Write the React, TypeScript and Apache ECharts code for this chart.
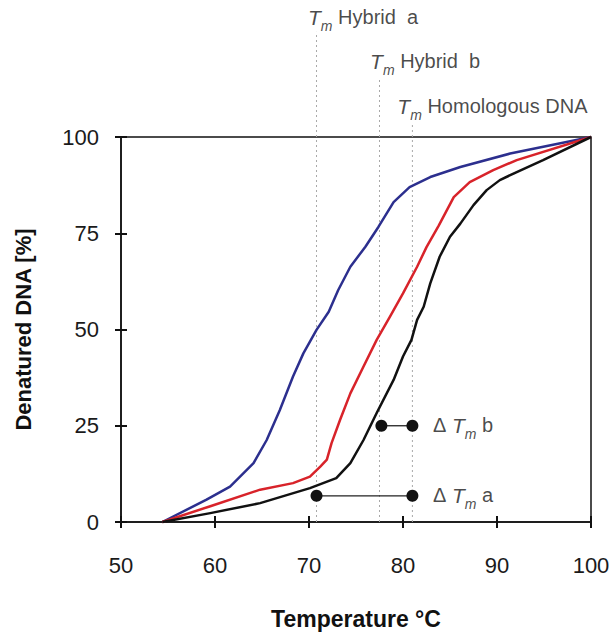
import React, { useEffect, useRef } from "react";
import * as echarts from "echarts";

const FONT = '"Liberation Sans", Arial, Helvetica, sans-serif';
const TEXT = "#1a1a1a";

// Curves (temperature °C, denatured %)
const blueX = [54.4, 59.1, 61.6, 64.1, 65.5, 66.9, 68.3, 69.4, 70.8, 72.1, 73.1, 74.4, 76.0, 77.4, 79.0, 80.7, 82.9, 86.1, 91.4, 100];
const blueY = [0, 5.8, 9.2, 15.3, 21.3, 29.1, 37.8, 43.8, 49.9, 54.6, 60.2, 66.3, 71.5, 76.7, 83.1, 87.0, 89.6, 92.2, 95.7, 100];

const redX = [54.4, 59.5, 64.8, 68.3, 70.1, 71.2, 71.9, 72.4, 73.3, 74.4, 75.8, 77.2, 78.6, 80.0, 81.5, 82.5, 83.8, 85.4, 87.1, 89.6, 92.1, 100];
const redY = [0, 4.1, 8.4, 10.1, 11.8, 14.4, 16.2, 20.5, 26.5, 33.4, 40.4, 47.3, 53.3, 59.4, 66.3, 71.4, 77.0, 84.4, 88.3, 91.4, 94.0, 100];

const blackX = [54.4, 59.5, 64.8, 70.1, 72.9, 74.4, 75.8, 77.2, 79.0, 80.0, 80.9, 81.5, 82.2, 82.9, 83.9, 85.0, 86.1, 87.5, 88.9, 90.3, 92.1, 94.9, 100];
const blackY = [0, 2.3, 4.9, 8.8, 11.4, 15.3, 21.3, 28.3, 36.9, 43.0, 47.3, 52.5, 55.9, 62.0, 68.9, 74.1, 77.5, 82.3, 86.2, 88.8, 90.9, 94.0, 100];

// Tm reference lines
const tmX = [70.8, 77.5, 81.0];
const tmTop = [127.3, 115.3, 103.6];
const tmNames = ["Hybrid\u00a0 a", "Hybrid\u00a0 b", "Homologous DNA"];
const tmLabelX = [69.9, 76.5, 79.4];
const tmLabelY = [130.3, 118.9, 107.2];

// Delta Tm markers
const deltaNames = ["a", "b"];
const deltaFromX = [70.8, 77.7];
const deltaToX = [81.0, 81.0];
const deltaY = [6.8, 25.0];
const deltaLabelX = [83.2, 83.2];
const deltaLabelY = [6.3, 24.5];

// Axis ticks
const xMin = 50, xMax = 100, xStep = 10;
const yMin = 0, yMax = 100, yStep = 25;

const zip = (xs: number[], ys: number[]) => xs.map((x, i) => [x, ys[i]]);

const rich = {
  d: { fontFamily: FONT, fontSize: 20, lineHeight: 21, verticalAlign: "top", color: TEXT },
  t: { fontFamily: FONT, fontStyle: "italic", fontSize: 21, lineHeight: 21, verticalAlign: "top", color: TEXT },
  s: { fontFamily: FONT, fontStyle: "italic", fontSize: 14, lineHeight: 26, verticalAlign: "bottom", color: TEXT },
  n: { fontFamily: FONT, fontSize: 20, lineHeight: 21, verticalAlign: "top", color: TEXT },
};

export default function App() {
  const ref = useRef<HTMLDivElement>(null);
  useEffect(() => {
    if (!ref.current) return;
    const chart = echarts.init(ref.current, undefined, { renderer: "svg" });
    const axisLineStyle = { color: "#111", width: 1.5 };
    const tickStyle = { color: "#111", width: 2 };
    const curve = (name: string, xs: number[], ys: number[], color: string) => ({
      type: "line",
      name,
      data: zip(xs, ys),
      showSymbol: false,
      symbol: "none",
      smooth: false,
      clip: false,
      lineStyle: { color, width: 2.5, join: "round" },
      z: 5,
    });
    const series: any[] = [];
    tmX.forEach((x, i) => {
      series.push({
        type: "line",
        data: [[x, 0], [x, tmTop[i]]],
        symbol: "none",
        clip: false,
        lineStyle: { color: "#a8a8a8", width: 1, type: [2, 3] },
        z: 1,
        silent: true,
      });
    });
    series.push(curve("Hybrid a", blueX, blueY, "#2c2f8e"));
    series.push(curve("Hybrid b", redX, redY, "#d8232a"));
    series.push(curve("Homologous", blackX, blackY, "#111111"));
    deltaY.forEach((y, i) => {
      series.push({
        type: "line",
        data: [[deltaFromX[i], y], [deltaToX[i], y]],
        symbol: "circle",
        symbolSize: 12,
        showSymbol: true,
        clip: false,
        itemStyle: { color: "#111" },
        lineStyle: { color: "#222", width: 1.3 },
        z: 6,
        silent: true,
      });
    });
    series.push({
      type: "scatter",
      symbolSize: 0,
      clip: false,
      silent: true,
      data: tmNames.map((n, i) => ({
        value: [tmLabelX[i], tmLabelY[i]],
        label: { formatter: "{t|T}{s|m}{n|\u00a0" + n + "}" },
      })),
      label: { show: true, position: "right", distance: 0, rich },
    });
    series.push({
      type: "scatter",
      symbolSize: 0,
      clip: false,
      silent: true,
      data: deltaNames.map((n, i) => ({
        value: [deltaLabelX[i], deltaLabelY[i]],
        label: { formatter: "{d|\u0394\u00a0}{t|T}{s|m}{n|\u00a0" + n + "}" },
      })),
      label: { show: true, position: "right", distance: 0, rich },
    });

    chart.setOption({
      animation: false,
      backgroundColor: "#ffffff",
      grid: {
        left: 121,
        right: 25,
        top: 137,
        bottom: 113,
        show: true,
        borderColor: "#111",
        borderWidth: 1.5,
        backgroundColor: "transparent",
      },
      xAxis: [
        {
          type: "value",
          min: xMin,
          max: xMax,
          interval: xStep,
          position: "bottom",
          axisLine: { show: true, lineStyle: axisLineStyle },
          axisTick: { show: true, length: 6, lineStyle: tickStyle },
          axisLabel: { margin: 32, fontSize: 22, color: TEXT, fontFamily: FONT },
          splitLine: { show: false },
          name: "Temperature °C",
          nameLocation: "middle",
          nameGap: 85,
          nameTextStyle: { fontFamily: FONT, fontWeight: "bold", fontSize: 23, color: "#111" },
        },
        {
          type: "value",
          min: xMin,
          max: xMax,
          interval: xStep,
          position: "bottom",
          axisLine: { show: false },
          axisTick: { show: true, inside: true, length: 6, lineStyle: tickStyle },
          axisLabel: { show: false },
          splitLine: { show: false },
        },
      ],
      yAxis: [
        {
          type: "value",
          min: yMin,
          max: yMax,
          interval: yStep,
          position: "left",
          axisLine: { show: true, lineStyle: axisLineStyle },
          axisTick: { show: true, length: 6, lineStyle: tickStyle },
          axisLabel: { margin: 22, fontSize: 22, color: TEXT, fontFamily: FONT },
          splitLine: { show: false },
          name: "Denatured DNA [%]",
          nameLocation: "middle",
          nameGap: 87,
          nameTextStyle: { fontFamily: FONT, fontWeight: "bold", fontSize: 22, color: "#111" },
        },
        {
          type: "value",
          min: yMin,
          max: yMax,
          interval: yStep,
          position: "left",
          axisLine: { show: false },
          axisTick: { show: true, inside: true, length: 6, lineStyle: tickStyle },
          axisLabel: { show: false },
          splitLine: { show: false },
        },
      ],
      series,
    });
    return () => chart.dispose();
  }, []);
  return (
    <div
      ref={ref}
      style={{ position: "absolute", left: 0, top: 0, width: 616, height: 635 }}
    />
  );
}
